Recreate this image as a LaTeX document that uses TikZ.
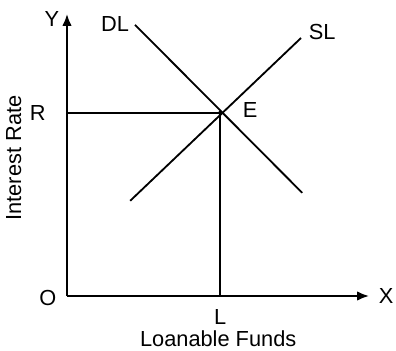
\documentclass[tikz,border=0pt]{standalone}
\usepackage{fontspec}
\setmainfont{Liberation Sans}
\usetikzlibrary{arrows.meta}

\tikzset{
  curve/.style={line width=1.3pt},
  axis/.style={line width=1.3pt, -{Latex[length=3mm,width=2.4mm]}},
  lbl/.style={font=\fontsize{15.5}{18}\selectfont, inner sep=1pt}
}

\begin{document}
\begin{tikzpicture}[x=1cm, y=1cm]
  \useasboundingbox (-1.675,-1.375) rectangle (8.225,7.4);

  % Points
  \coordinate (O) at (0,0);
  \coordinate (Ytop) at (0,7.05);
  \coordinate (Xend) at (7.55,0);
  \coordinate (E) at (3.83,4.58);
  \coordinate (R) at (0,4.58);
  \coordinate (L) at (3.83,0);
  \coordinate (DLa) at (1.7,6.78);
  \coordinate (DLb) at (5.88,2.58);
  \coordinate (SLa) at (1.58,2.38);
  \coordinate (SLb) at (5.85,6.45);

  % Axes
  \draw[axis] (O) -- (Ytop);
  \draw[axis] (O) -- (Xend);

  % Demand and supply of loanable funds
  \draw[curve] (DLa) -- (DLb);
  \draw[curve] (SLa) -- (SLb);

  % Equilibrium
  \draw[curve] (R) -- (E);
  \draw[curve] (E) -- (L);
  \fill (E) circle (0.05);

  % Labels
  \node[lbl] (ylab) at (-0.38,6.92) {Y};
  \node[lbl] (xlab) at (7.98,0) {X};
  \node[lbl] (olab) at (-0.48,-0.05) {O};
  \node[lbl] (rlab) at (-0.73,4.58) {R};
  \node[lbl] (llab) at (3.83,-0.53) {L};
  \node[lbl] (elab) at (4.58,4.65) {E};
  \node[lbl] (dllab) at (1.2,6.8) {DL};
  \node[lbl] (sllab) at (6.38,6.6) {SL};
  \node[lbl] (funds) at (3.78,-1.07) {Loanable Funds};
  \node[lbl, rotate=90] (rate) at (-1.33,3.45) {Interest Rate};
\end{tikzpicture}
\end{document}
